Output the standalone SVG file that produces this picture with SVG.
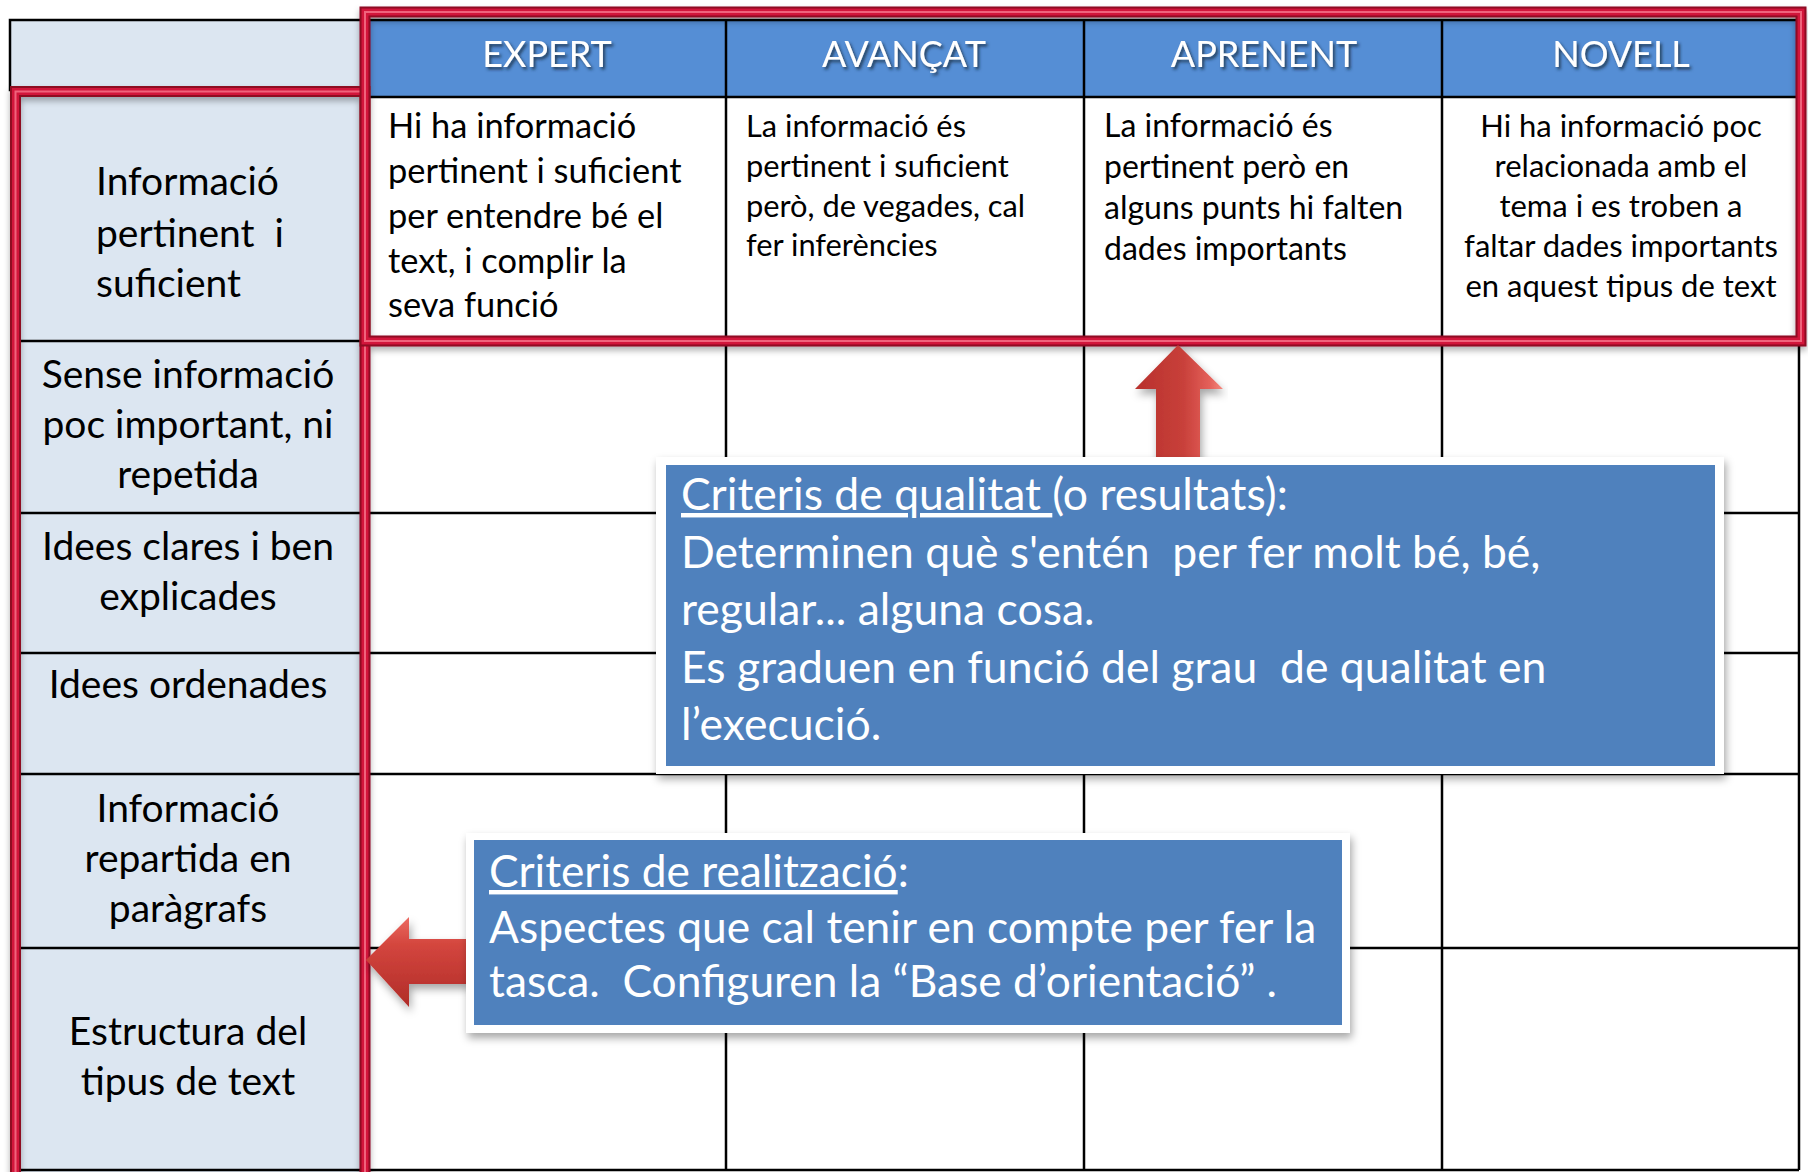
<svg xmlns="http://www.w3.org/2000/svg" width="1808" height="1172" viewBox="0 0 1808 1172">
<style>
text{font-family:Lato,"Open Sans","Liberation Sans",sans-serif;white-space:pre}
.lbl{font-size:39px;fill:#000;text-anchor:middle}
.lbl0{font-size:39px;fill:#000}
.hd{font-size:36px;fill:#fff;text-anchor:middle;filter:url(#tsh)}
.c1{font-size:34.4px;fill:#000}
.c2{font-size:30.8px;fill:#000}
.c3{font-size:32px;fill:#000}
.c4{font-size:31px;fill:#000;text-anchor:middle}
.co{font-size:44.5px;fill:#fff}
.co2{font-size:44.3px;fill:#fff}
.grid{stroke:#000;stroke-width:2.5;fill:none}
.f1{fill:none;stroke:#8e0a22;stroke-width:11}
.f2{fill:none;stroke:#d2163a;stroke-width:7}
.f3{fill:none;stroke:#f0647c;stroke-width:2}
</style>
<defs>
<filter id="tsh" x="-10%" y="-20%" width="130%" height="150%"><feDropShadow dx="2" dy="2.5" stdDeviation="1.5" flood-color="#1a2a40" flood-opacity="0.8"/></filter>
<filter id="bsh" x="-5%" y="-10%" width="110%" height="125%"><feDropShadow dx="2" dy="5" stdDeviation="4" flood-color="#000" flood-opacity="0.35"/></filter>
<filter id="fsh" x="-5%" y="-5%" width="110%" height="110%"><feDropShadow dx="0" dy="4" stdDeviation="3" flood-color="#000" flood-opacity="0.3"/></filter>
<linearGradient id="gUp" x1="0" y1="0" x2="1" y2="0"><stop offset="0" stop-color="#b8302c"/><stop offset="0.55" stop-color="#c8403a"/><stop offset="0.85" stop-color="#e4605a"/><stop offset="1" stop-color="#f48a80"/></linearGradient>
<linearGradient id="gLeft" x1="0" y1="0" x2="0" y2="1"><stop offset="0" stop-color="#ec6a62"/><stop offset="0.3" stop-color="#d4463e"/><stop offset="1" stop-color="#b02c28"/></linearGradient>
</defs>
<rect width="1808" height="1172" fill="#fff"/>
<g id="table">
<rect x="10" y="20" width="360" height="1152" fill="#dce6f1"/>
<rect x="370" y="20" width="1429" height="77" fill="#558ed5"/>
<rect x="10" y="20" width="355" height="70" class="grid"/>
<line x1="370" y1="20" x2="1799" y2="20" class="grid"/>
<line x1="370" y1="97" x2="1799" y2="97" class="grid"/>
<line x1="726" y1="20" x2="726" y2="1170" class="grid"/>
<line x1="1084" y1="20" x2="1084" y2="1170" class="grid"/>
<line x1="1442" y1="20" x2="1442" y2="1170" class="grid"/>
<line x1="1799" y1="20" x2="1799" y2="1170" class="grid"/>
<line x1="15" y1="341" x2="1799" y2="341" class="grid"/>
<line x1="15" y1="513" x2="1799" y2="513" class="grid"/>
<line x1="15" y1="653" x2="1799" y2="653" class="grid"/>
<line x1="15" y1="774" x2="1799" y2="774" class="grid"/>
<line x1="15" y1="948" x2="1799" y2="948" class="grid"/>
<line x1="15" y1="1170" x2="1799" y2="1170" class="grid"/>
</g>
<g id="frames" filter="url(#fsh)">
<path d="M365,1185 V91.5 H15.5 V1185" class="f1"/>
<path d="M365,1185 V91.5 H15.5 V1185" class="f2"/>
<path d="M365,1185 V91.5 H15.5 V1185" class="f3"/>
<rect x="365" y="12" width="1436" height="329" class="f1"/>
<rect x="365" y="12" width="1436" height="329" class="f2"/>
<rect x="365" y="12" width="1436" height="329" class="f3"/>
</g>
<g id="headers">
<text class="hd" x="547" y="67">EXPERT</text>
<text class="hd" x="904" y="67">AVANÇAT</text>
<text class="hd" x="1264" y="67">APRENENT</text>
<text class="hd" x="1621" y="67">NOVELL</text>
</g>
<g id="row-labels">
<text class="lbl0" x="96"><tspan x="96" y="195">Informació</tspan><tspan x="96" y="247">pertinent  i</tspan><tspan x="96" y="297">suficient</tspan></text>
<text class="lbl"><tspan x="188" y="388">Sense informació</tspan><tspan x="188" y="438">poc important, ni</tspan><tspan x="188" y="488">repetida</tspan></text>
<text class="lbl"><tspan x="188" y="560">Idees clares i ben</tspan><tspan x="188" y="610">explicades</tspan></text>
<text class="lbl"><tspan x="188" y="698">Idees ordenades</tspan></text>
<text class="lbl"><tspan x="188" y="822">Informació</tspan><tspan x="188" y="872">repartida en</tspan><tspan x="188" y="922">paràgrafs</tspan></text>
<text class="lbl"><tspan x="188" y="1045">Estructura del</tspan><tspan x="188" y="1095">tipus de text</tspan></text>
</g>
<g id="cells">
<text class="c1"><tspan x="388" y="138">Hi ha informació</tspan><tspan x="388" y="183">pertinent i suficient</tspan><tspan x="388" y="228">per entendre bé el</tspan><tspan x="388" y="273">text, i complir la</tspan><tspan x="388" y="317">seva funció</tspan></text>
<text class="c2"><tspan x="746" y="137">La informació és</tspan><tspan x="746" y="177">pertinent i suficient</tspan><tspan x="746" y="217">però, de vegades, cal</tspan><tspan x="746" y="256">fer inferències</tspan></text>
<text class="c3"><tspan x="1104" y="137">La informació és</tspan><tspan x="1104" y="178">pertinent però en</tspan><tspan x="1104" y="219">alguns punts hi falten</tspan><tspan x="1104" y="260">dades importants</tspan></text>
<text class="c4"><tspan x="1621" y="137">Hi ha informació poc</tspan><tspan x="1621" y="177">relacionada amb el</tspan><tspan x="1621" y="217">tema i es troben a</tspan><tspan x="1621" y="257">faltar dades importants</tspan><tspan x="1621" y="297">en aquest tipus de text</tspan></text>
</g>
<g id="connectors">
<path d="M1178,345 L1223,389 L1200,389 L1200,462 L1156,462 L1156,389 L1135,389 Z" fill="url(#gUp)" filter="url(#bsh)"/>
<path d="M366,960 L409,917 L409,939 L470,939 L470,984 L409,984 L409,1007 Z" fill="url(#gLeft)" filter="url(#bsh)"/>
</g>
<g id="callout-qualitat">
<rect x="656" y="457" width="1068" height="317" fill="#fff" filter="url(#bsh)"/>
<rect x="666" y="465" width="1049" height="301" fill="#4f81bd"/>
<text class="co"><tspan x="681" y="510"><tspan text-decoration="underline">Criteris de qualitat </tspan>(o resultats):</tspan><tspan x="681" y="568">Determinen què s'entén  per fer molt bé, bé,</tspan><tspan x="681" y="625">regular... alguna cosa.</tspan><tspan x="681" y="683">Es graduen en funció del grau  de qualitat en</tspan><tspan x="681" y="740">l’execució.</tspan></text>
</g>
<g id="callout-realitzacio">
<rect x="466" y="833" width="884" height="200" fill="#fff" filter="url(#bsh)"/>
<rect x="474" y="840" width="868" height="185" fill="#4f81bd"/>
<text class="co2"><tspan x="489" y="887"><tspan text-decoration="underline">Criteris de realització</tspan>:</tspan><tspan x="489" y="943">Aspectes que cal tenir en compte per fer la</tspan><tspan x="489" y="997">tasca.  Configuren la “Base d’orientació” .</tspan></text>
</g>
</svg>
